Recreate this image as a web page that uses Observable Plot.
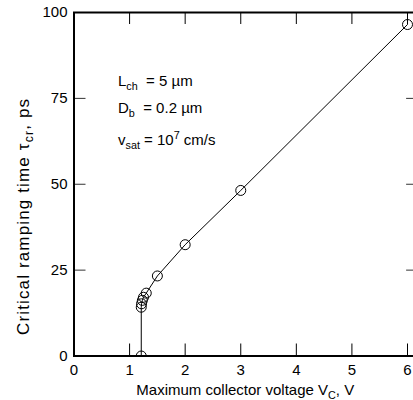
<!DOCTYPE html>
<html><head><meta charset="utf-8">
<script src="https://cdn.jsdelivr.net/npm/d3@7"></script>
<script src="https://cdn.jsdelivr.net/npm/@observablehq/plot@0.6"></script>
<style>
body{margin:0;background:#fff;}
#wrap{width:413px;height:400px;overflow:hidden;position:relative;}
#wrap svg{max-width:none !important;}
svg text{white-space:pre;}
</style></head><body><div id="wrap"></div>
<script>
// Data
const voltage  = [1.21, 1.21, 1.215, 1.23, 1.25, 1.30, 1.50, 2.0, 3.0, 6.0];
const rampTime = [0, 14.2, 15.2, 16.2, 17.1, 18.3, 23.3, 32.4, 48.2, 96.5];
const xTicks = [0, 1, 2, 3, 4, 5, 6];
const yTicks = [0, 25, 50, 75, 100];
const xLabel = ["Maximum collector voltage V", "C", ", V"];
const yLabel = ["Critical ramping time \u03C4", "cr", ", ps"];
const notes = [
  [["L", ""], ["ch", "sub"], ["  = 5 \u00B5m", ""]],
  [["D", ""], ["b", "sub"], ["  = 0.2 \u00B5m", ""]],
  [["v", ""], ["sat", "sub"], [" = 10", ""], ["7", "sup"], [" cm/s", ""]]
];

const data = voltage.map((v, i) => ({v, t: rampTime[i]}));

const W = 420, H = 400, ML = 73.5, MT = 12, MB = 44.5;
const pxPerV = (407 - 73.5) / 6;
const xMax = 6.2;
const MR = W - ML - xMax * pxPerV;
const frameW = xMax * pxPerV, frameH = H - MT - MB;
const FONT = "Liberation Sans, Arial, Helvetica, sans-serif";
const tickLen = 12;

const plot = Plot.plot({
  width: W, height: H,
  marginLeft: ML, marginRight: MR, marginTop: MT, marginBottom: MB,
  style: {fontFamily: FONT, fontSize: "15px", color: "#000", background: "#fff", maxWidth: "none"},
  x: {domain: [0, xMax], ticks: xTicks, label: null},
  y: {domain: [0, 100], ticks: yTicks, label: null},
  marks: [
    Plot.axisX(xTicks, {tickSize: 0, tickPadding: 8, label: null, fontSize: 15, tickFormat: d => String(d)}),
    Plot.axisY(yTicks, {tickSize: 0, tickPadding: 6.5, label: null, fontSize: 15, tickFormat: d => String(d)}),
    Plot.tickX(xTicks, {x: d => d, insetTop: frameH - tickLen, stroke: "#000", strokeWidth: 1}),
    Plot.tickX(xTicks, {x: d => d, insetBottom: frameH - tickLen, stroke: "#000", strokeWidth: 1}),
    Plot.tickY(yTicks, {y: d => d, insetRight: frameW - tickLen, stroke: "#333", strokeWidth: 1}),
    Plot.tickY(yTicks, {y: d => d, insetLeft: frameW - tickLen, stroke: "#333", strokeWidth: 1}),
    Plot.line(data, {x: "v", y: "t", stroke: "#000", strokeWidth: 1, clip: true}),
    Plot.dot(data, {x: "v", y: "t", r: 5, stroke: "#000", strokeWidth: 1, fill: "none", clip: true}),
    Plot.frame({stroke: "#000", strokeWidth: 2})
  ]
});
plot.style.maxWidth = "none";

const svg = d3.select(plot);
const xs = plot.scale("x"), ys = plot.scale("y");

function rich(g, parts, baseFs) {
  let shift = 0;
  for (const [str, kind] of parts) {
    const ts = g.append("tspan").text(str);
    let target = 0;
    if (kind === "sub") { ts.attr("font-size", baseFs * 0.72); target = 4; }
    else if (kind === "sup") { ts.attr("font-size", baseFs * 0.72); target = -6; }
    else { ts.attr("font-size", baseFs); }
    ts.attr("dy", target - shift);
    shift = target;
  }
}

// x-axis title
const xt = svg.append("text")
  .attr("x", xs.apply(3) + 5).attr("y", 395)
  .attr("text-anchor", "middle").attr("font-family", FONT).attr("fill", "#000");
rich(xt, [[xLabel[0], ""], [xLabel[1], "sub"], [xLabel[2], ""]], 15);

// y-axis title
const yt = svg.append("text")
  .attr("transform", `translate(29,217) rotate(-90)`)
  .attr("text-anchor", "middle").attr("font-family", FONT).attr("fill", "#000")
  .attr("textLength", 236).attr("lengthAdjust", "spacing");
rich(yt, [[yLabel[0], ""], [yLabel[1], "sub"], [yLabel[2], ""]], 17);

// annotations
const baselines = [86, 113, 145];
notes.forEach((parts, i) => {
  const t = svg.append("text")
    .attr("x", 118).attr("y", baselines[i])
    .attr("text-anchor", "start")
    .attr("font-family", FONT).attr("fill", "#000");
  rich(t, parts, 15);
});

document.getElementById("wrap").appendChild(plot);
</script>
</body></html>
